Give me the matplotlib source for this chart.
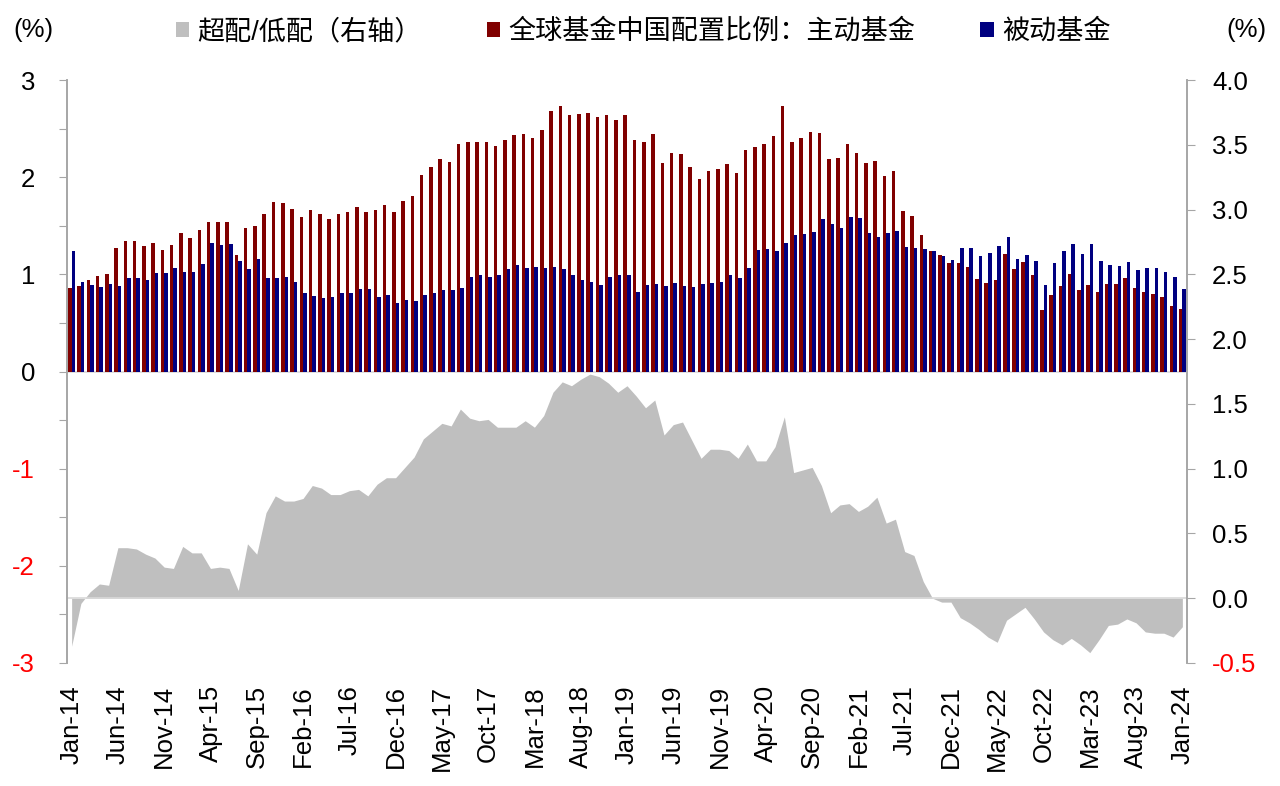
import matplotlib
matplotlib.use('Agg')
import matplotlib.pyplot as plt
import numpy as np
import pandas as pd
from matplotlib.patches import Patch

plt.rcParams['font.family'] = ['Liberation Sans', 'Noto Sans CJK SC', 'DejaVu Sans']

months = pd.date_range('2014-01-01', '2024-01-01', freq='MS').strftime('%b-%y').tolist()

active = [
    0.86, 0.88, 0.94, 0.98, 1.00, 1.27, 1.34, 1.34, 1.29, 1.32,
    1.25, 1.30, 1.43, 1.37, 1.46, 1.54, 1.54, 1.54, 1.20, 1.48,
    1.50, 1.62, 1.74, 1.73, 1.67, 1.59, 1.66, 1.62, 1.57, 1.62,
    1.64, 1.69, 1.64, 1.66, 1.71, 1.64, 1.75, 1.81, 2.02, 2.10,
    2.19, 2.16, 2.34, 2.36, 2.36, 2.36, 2.32, 2.38, 2.43, 2.44,
    2.40, 2.49, 2.68, 2.73, 2.64, 2.65, 2.66, 2.62, 2.64, 2.59,
    2.64, 2.38, 2.36, 2.44, 2.15, 2.25, 2.24, 2.10, 1.98, 2.06,
    2.08, 2.14, 2.04, 2.28, 2.31, 2.34, 2.42, 2.73, 2.36, 2.40,
    2.46, 2.45, 2.19, 2.20, 2.34, 2.25, 2.15, 2.17, 2.01, 2.06,
    1.65, 1.60, 1.40, 1.24, 1.20, 1.12, 1.12, 1.08, 0.95, 0.91,
    0.94, 1.21, 1.05, 1.13, 0.99, 0.63, 0.79, 0.88, 1.00, 0.84,
    0.89, 0.82, 0.90, 0.90, 0.96, 0.86, 0.82, 0.80, 0.77, 0.67,
    0.64,
]

passive = [
    1.24, 0.92, 0.89, 0.87, 0.90, 0.88, 0.96, 0.96, 0.94, 1.01,
    1.01, 1.07, 1.02, 1.02, 1.11, 1.32, 1.30, 1.31, 1.14, 1.05,
    1.16, 0.96, 0.96, 0.97, 0.92, 0.81, 0.78, 0.76, 0.77, 0.81,
    0.81, 0.85, 0.85, 0.77, 0.79, 0.71, 0.74, 0.73, 0.79, 0.81,
    0.84, 0.84, 0.86, 0.97, 0.99, 0.97, 0.99, 1.05, 1.10, 1.07,
    1.08, 1.07, 1.08, 1.06, 0.99, 0.94, 0.92, 0.89, 0.97, 0.99,
    0.99, 0.82, 0.89, 0.90, 0.88, 0.91, 0.88, 0.87, 0.90, 0.91,
    0.92, 0.99, 0.96, 1.07, 1.25, 1.26, 1.24, 1.32, 1.40, 1.41,
    1.44, 1.57, 1.52, 1.48, 1.59, 1.58, 1.43, 1.38, 1.43, 1.45,
    1.28, 1.27, 1.26, 1.24, 1.19, 1.15, 1.27, 1.27, 1.19, 1.22,
    1.29, 1.38, 1.16, 1.20, 1.14, 0.89, 1.12, 1.24, 1.31, 1.21,
    1.31, 1.14, 1.10, 1.09, 1.13, 1.04, 1.07, 1.07, 1.02, 0.97,
    0.85,
]

overweight = [
    -0.37, -0.04, 0.05, 0.11, 0.10, 0.39, 0.39, 0.38, 0.34, 0.31,
    0.24, 0.23, 0.40, 0.35, 0.35, 0.23, 0.24, 0.23, 0.06, 0.42,
    0.34, 0.66, 0.79, 0.75, 0.75, 0.77, 0.87, 0.85, 0.80, 0.80,
    0.83, 0.84, 0.79, 0.88, 0.93, 0.93, 1.01, 1.09, 1.23, 1.29,
    1.35, 1.33, 1.46, 1.39, 1.37, 1.38, 1.32, 1.32, 1.32, 1.37,
    1.32, 1.41, 1.59, 1.67, 1.64, 1.69, 1.73, 1.71, 1.66, 1.59,
    1.64, 1.56, 1.47, 1.53, 1.26, 1.34, 1.36, 1.22, 1.08, 1.15,
    1.15, 1.14, 1.08, 1.19, 1.06, 1.06, 1.17, 1.40, 0.97, 0.99,
    1.01, 0.87, 0.66, 0.72, 0.73, 0.67, 0.71, 0.78, 0.58, 0.61,
    0.36, 0.33, 0.13, 0.00, -0.03, -0.03, -0.15, -0.19, -0.24, -0.30,
    -0.34, -0.17, -0.12, -0.07, -0.16, -0.26, -0.32, -0.36, -0.31, -0.36,
    -0.42, -0.32, -0.21, -0.20, -0.16, -0.19, -0.26, -0.27, -0.27, -0.30,
    -0.22,
]

legend_labels = ['超配/低配（右轴）', '全球基金中国配置比例：主动基金', '被动基金']
left_ticks = np.arange(-3, 3.01, 0.5)
right_ticks = [-0.5, 0.0, 0.5, 1.0, 1.5, 2.0, 2.5, 3.0, 3.5, 4.0]

RED = '#800000'
BLUE = '#000080'
GREY = '#BFBFBF'
AXC = '#A6A6A6'
FS = 18.5

fig = plt.figure(figsize=(12.8, 7.86), dpi=100)
ax = fig.add_axes([67/1280, 1-663/786, (1187-67)/1280, (663-80)/786])
ax2 = ax.twinx()

x = np.arange(len(months))
w = 0.38
# area on secondary axis
ax2.fill_between(x, 0, overweight, color=GREY, linewidth=0)
ax2.axhline(0, color='#D9D9D9', lw=1.2)
ax2.set_ylim(-0.5, 4.0)

# bars on primary
ax.set_zorder(ax2.get_zorder() + 1)
ax.patch.set_visible(False)
ax.bar(x - w/2, active, width=w, color=RED, linewidth=0)
ax.bar(x + w/2, passive, width=w, color=BLUE, linewidth=0)
ax.axhline(0, color='#D9D9D9', lw=1.2, zorder=0)
ax.set_ylim(-3, 3)
ax.set_xlim(-0.5, len(months) - 0.5)

# left y ticks
ax.set_yticks(left_ticks)
ax.set_yticklabels([str(int(v)) if float(v).is_integer() else '' for v in left_ticks])
for lbl, v in zip(ax.get_yticklabels(), left_ticks):
    lbl.set_color('red' if v < 0 else 'black')
ax.tick_params(axis='y', direction='out', length=6, color=AXC, labelsize=FS, pad=17)

# right y ticks
ax2.set_yticks(right_ticks)
ax2.set_yticklabels([f'{v:.1f}' for v in right_ticks])
for lbl, v in zip(ax2.get_yticklabels(), right_ticks):
    lbl.set_color('red' if v < 0 else 'black')
ax2.tick_params(axis='y', direction='out', length=6, color=AXC, labelsize=FS, pad=12)

# x ticks
ax.set_xticks(x[::5])
ax.set_xticklabels(months[::5], rotation=90, fontsize=FS)
ax.tick_params(axis='x', length=0, pad=16)

for a in (ax, ax2):
    a.spines['top'].set_visible(False)
    a.spines['bottom'].set_visible(False)
    a.spines['left'].set_color(AXC)
    a.spines['right'].set_color(AXC)
    a.spines['left'].set_linewidth(1.2)
    a.spines['right'].set_linewidth(1.2)

fig.text(13/1280, 1-30/786, '(%)', fontsize=FS, va='center', ha='left')
fig.text(1267/1280, 1-30/786, '(%)', fontsize=FS, va='center', ha='right')

handles = [Patch(facecolor=GREY), Patch(facecolor=RED), Patch(facecolor=BLUE)]
fig.legend(handles, legend_labels, loc='center', bbox_to_anchor=(643/1280, 1-32/786),
           ncol=3, frameon=False, fontsize=19.5, handlelength=0.5, handleheight=0.5,
           handletextpad=0.3, columnspacing=2.4)

fig.savefig('out.png', dpi=100)
